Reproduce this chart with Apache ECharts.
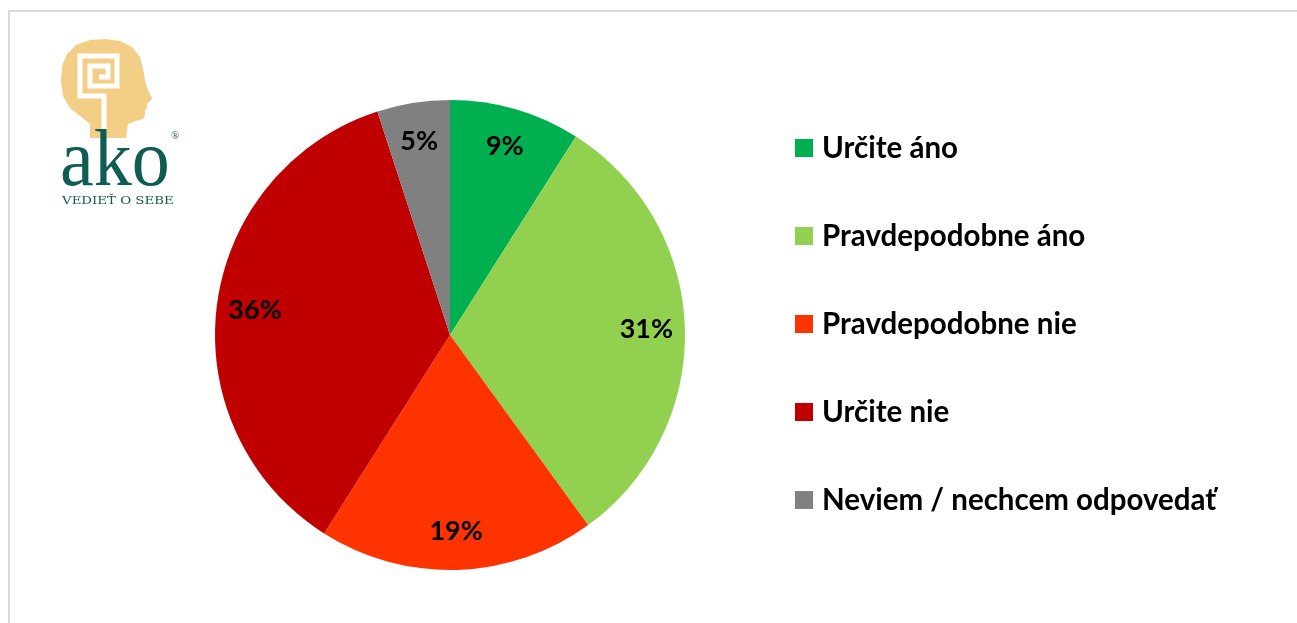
<!DOCTYPE html>
<html>
<head>
<meta charset="utf-8">
<script src="https://cdn.jsdelivr.net/npm/echarts@6/dist/echarts.min.js"></script>
<style>
  html, body { margin: 0; padding: 0; background: #fff; }
  #chart { width: 1297px; height: 623px; }
</style>
</head>
<body>
<div id="chart"></div>
<script>
// survey answers, shares in percent
const categories = [
    "Určite áno",
    "Pravdepodobne áno",
    "Pravdepodobne nie",
    "Určite nie",
    "Neviem / nechcem odpovedať"
];
const shares = [9, 31, 19, 36, 5];
const sliceColors = ["#00B050", "#92D050", "#FF3300", "#C00000", "#808080"];

const labelFont = "Lato, 'Open Sans', sans-serif";
const tan = "#F3CE87";
const teal = "#0E5C52";

const pieData = categories.map((name, i) => ({
    name: name,
    value: shares[i],
    itemStyle: { color: sliceColors[i] }
}));

const chart = echarts.init(document.getElementById("chart"));

chart.setOption({
    animation: false,
    backgroundColor: "#fff",
    legend: {
        orient: "vertical",
        left: 795,
        top: 133,
        padding: 0,
        itemWidth: 18,
        itemHeight: 18,
        itemGap: 58,
        icon: "rect",
        selectedMode: false,
        data: categories,
        textStyle: {
            fontFamily: labelFont,
            fontWeight: "bold",
            fontSize: 29.5,
            lineHeight: 30,
            color: "#000",
            padding: [0, 0, 0, 4]
        }
    },
    series: [
        {
            type: "pie",
            center: [450, 335],
            radius: [0, 235],
            startAngle: 90,
            silent: true,
            label: { show: false },
            labelLine: { show: false },
            itemStyle: { borderWidth: 0 },
            data: pieData
        },
        {
            // transparent ring only used to place the percent labels
            type: "pie",
            center: [450, 335],
            radius: [152, 235],
            startAngle: 90,
            silent: true,
            itemStyle: { color: "transparent", borderWidth: 0 },
            label: {
                show: true,
                position: "inside",
                formatter: "{c}%",
                fontFamily: labelFont,
                fontWeight: "bold",
                fontSize: 27,
                color: "#000"
            },
            labelLine: { show: false },
            data: categories.map((name, i) => ({ name: name, value: shares[i] }))
        }
    ],
    graphic: [
        {
            type: "rect",
            silent: true,
            shape: { x: 9, y: 11, width: 1320, height: 700 },
            style: { fill: "none", stroke: "#D9D9D9", lineWidth: 2 }
        },
        // logo: head
        {
            type: "polygon",
            silent: true,
            shape: {
                points: [[90, 138], [90, 124], [80, 116], [70, 108], [63, 96], [61, 82], [62, 66], [67, 54],
                    [76, 45], [90, 40], [105, 39], [120, 41], [132, 47], [140, 57], [143, 68], [145, 80],
                    [148, 90], [152, 98], [150, 101], [147, 104], [147, 108], [145, 110], [145, 115],
                    [143, 119], [136, 121], [128, 124], [126, 138]]
            },
            style: { fill: tan }
        },
        // logo: spiral
        {
            type: "polyline",
            silent: true,
            shape: {
                points: [[104, 138], [104, 96], [80, 96], [80, 56], [117, 56], [117, 86], [90, 86], [90, 66], [108, 66], [108, 77], [99, 77]]
            },
            style: { stroke: "#fff", lineWidth: 5, fill: "none" }
        },
        {
            type: "text",
            silent: true,
            x: 60,
            y: 124,
            scaleX: 0.95,
            style: {
                text: "ako",
                font: "normal 80px 'Liberation Serif', serif",
                fill: teal
            }
        },
        {
            type: "text",
            silent: true,
            left: 171,
            top: 131,
            style: {
                text: "®",
                font: "normal 11px 'Liberation Serif', serif",
                fill: teal
            }
        },
        {
            type: "text",
            silent: true,
            x: 62,
            y: 196,
            scaleX: 1.27,
            style: {
                text: "VEDIEŤ O SEBE",
                font: "normal 10.5px 'DejaVu Serif', serif",
                fill: teal
            }
        }
    ]
});
</script>
</body>
</html>
